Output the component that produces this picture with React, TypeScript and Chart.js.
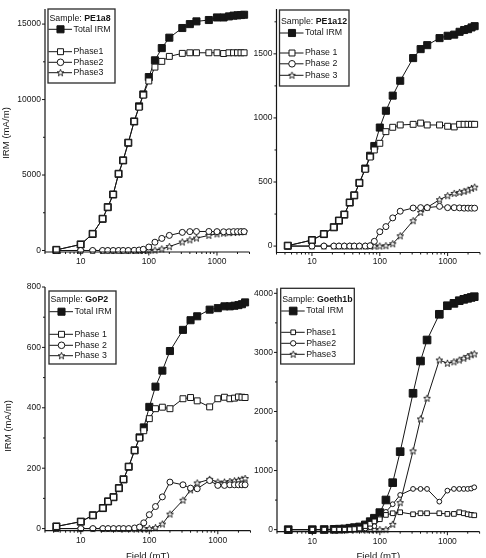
import React, { useEffect, useRef } from 'react';
import { Chart, registerables } from 'chart.js';

Chart.register(...registerables);

// ---------------- data ----------------
const FIELD_MT = [4.4, 10, 15, 21, 25, 30, 36, 42, 50, 61, 72, 83, 100, 123, 155, 200, 310, 400, 500, 760, 1000, 1250, 1500, 1750, 2000, 2250, 2500];
const X_TICKS = [10, 100, 1000];

// Sample PE1a8
const PE1A8_TOTAL = [40, 400, 1100, 2100, 2870, 3710, 5080, 5970, 7140, 8550, 9550, 10340, 11490, 12600, 13410, 14100, 14740, 15000, 15180, 15270, 15440, 15440, 15510, 15560, 15580, 15600, 15620];
const PE1A8_PHASE1 = [40, 400, 1100, 2100, 2870, 3710, 5080, 5970, 7140, 8550, 9500, 10300, 11230, 12150, 12530, 12860, 13060, 13100, 13100, 13100, 13100, 13050, 13100, 13100, 13100, 13100, 13100];
const PE1A8_PHASE2 = [0, 0, 0, 0, 0, 0, 0, 0, 0, 10, 30, 80, 230, 550, 800, 1000, 1200, 1250, 1260, 1260, 1250, 1240, 1240, 1250, 1250, 1250, 1250];
const PE1A8_PHASE3 = [0, 0, 0, 0, 0, 0, 0, 0, 0, 0, 0, 0, 0, 20, 100, 260, 560, 700, 820, 1000, 1100, 1150, 1180, 1200, 1220, 1240, 1250];
const PE1A8_Y_TICKS = [0, 5000, 10000, 15000];

// Sample PE1a12
const PE1A12_TOTAL = [3, 47, 94, 147, 199, 246, 340, 396, 493, 605, 705, 781, 925, 1056, 1174, 1290, 1467, 1537, 1568, 1623, 1641, 1650, 1672, 1686, 1693, 1706, 1716];
const PE1A12_PHASE1 = [3, 47, 94, 147, 199, 246, 340, 396, 493, 600, 695, 750, 802, 893, 927, 945, 950, 960, 945, 945, 935, 930, 950, 950, 950, 950, 950];
const PE1A12_PHASE2 = [0, 0, 0, 0, 0, 0, 0, 0, 0, 0, 3, 37, 112, 152, 220, 272, 297, 300, 300, 310, 300, 300, 298, 296, 296, 296, 296];
const PE1A12_PHASE3 = [0, 0, 0, 0, 0, 0, 0, 0, 0, 0, 0, 0, 0, 3, 18, 80, 198, 263, 302, 362, 393, 411, 419, 427, 437, 450, 460];
const PE1A12_Y_TICKS = [0, 500, 1000, 1500];

// Sample GoP2
const GOP2_TOTAL = [7, 23, 44, 68, 90, 104, 134, 163, 205, 259, 302, 335, 403, 470, 523, 588, 658, 690, 703, 725, 730, 736, 736, 738, 740, 743, 749];
const GOP2_PHASE1 = [7, 23, 44, 68, 90, 104, 134, 163, 205, 259, 300, 324, 364, 397, 402, 397, 430, 434, 423, 403, 430, 435, 430, 432, 436, 435, 434];
const GOP2_PHASE2 = [0, 0, 0, 0, 0, 0, 0, 0, 0, 2, 5, 19, 46, 73, 105, 154, 145, 134, 132, 159, 143, 143, 145, 145, 145, 145, 145];
const GOP2_PHASE3 = [0, 0, 0, 0, 0, 0, 0, 0, 0, 0, 0, 0, 0, 3, 15, 48, 94, 128, 151, 163, 154, 154, 156, 158, 160, 163, 166];
const GOP2_Y_TICKS = [0, 200, 400, 600, 800];

// Sample Goeth1b
const GOETH1B_TOTAL = [0, 0, 2, 5, 8, 12, 24, 34, 45, 80, 135, 193, 288, 502, 795, 1320, 2308, 2854, 3210, 3645, 3790, 3830, 3875, 3898, 3915, 3930, 3943];
const GOETH1B_PHASE1 = [0, 0, 0, 0, 0, 0, 5, 10, 20, 60, 100, 140, 176, 249, 277, 294, 260, 277, 277, 277, 266, 266, 294, 277, 260, 250, 243];
const GOETH1B_PHASE2 = [0, 0, 0, 0, 0, 0, 0, 0, 5, 20, 40, 60, 193, 300, 430, 587, 689, 689, 689, 474, 660, 689, 689, 689, 689, 695, 717];
const GOETH1B_PHASE3 = [0, 0, 0, 0, 0, 0, 0, 0, 0, 0, 0, 0, 0, 0, 90, 457, 1332, 1873, 2223, 2871, 2816, 2840, 2870, 2900, 2930, 2960, 2975];
const GOETH1B_Y_TICKS = [0, 1000, 2000, 3000, 4000];

// ---------------- style ----------------
const FONT = '"Liberation Sans", Arial, Helvetica, sans-serif';
const INK = '#151515';
const W = 486;
const H = 558;
const Y_AXIS_W = 40;
const X_AXIS_H = 20;

function makeStar(): HTMLCanvasElement {
  const c = document.createElement('canvas');
  c.width = 9;
  c.height = 9;
  const g = c.getContext('2d') as CanvasRenderingContext2D;
  starPath(g, 4.5, 4.7, 3.6, 1.5);
  return c;
}

function starPath(g: CanvasRenderingContext2D, cx: number, cy: number, ro: number, ri: number) {
  g.save();
  g.beginPath();
  for (let i = 0; i < 10; i++) {
    const r = i % 2 ? ri : ro;
    const a = -Math.PI / 2 + (i * Math.PI) / 5;
    const px = cx + r * Math.cos(a);
    const py = cy + r * Math.sin(a);
    if (i) g.lineTo(px, py);
    else g.moveTo(px, py);
  }
  g.closePath();
  g.fillStyle = '#fff';
  g.fill();
  g.strokeStyle = INK;
  g.lineWidth = 0.9;
  g.stroke();
  g.restore();
}

type Panel = {
  sample: string;
  series: number[][];
  phaseLabels: string[];
  yTicks: number[];
  yMin: number;
  yMax: number;
  area: { left: number; right: number; top: number; bottom: number };
  legend: { dx: number; dy: number; w: number; h: number; rows: number[] };
  sizes: number[];
  yTitle?: { x: number; y: number };
  xTitle?: boolean;
};

const PANELS: Panel[] = [
  {
    sample: 'PE1a8',
    series: [PE1A8_TOTAL, PE1A8_PHASE1, PE1A8_PHASE2, PE1A8_PHASE3],
    phaseLabels: ['Phase1', 'Phase2', 'Phase3'],
    yTicks: PE1A8_Y_TICKS,
    yMin: -100,
    yMax: 16000,
    area: { left: 45, right: 249.5, top: 9, bottom: 252 },
    legend: { dx: 3, dy: 0, w: 67, h: 74, rows: [9.7, 20.3, 42.7, 53.3, 63.7] },
    sizes: [5, 4.2, 3, 3],
    yTitle: { x: 9, y: 133 },
  },
  {
    sample: 'PE1a12',
    series: [PE1A12_TOTAL, PE1A12_PHASE1, PE1A12_PHASE2, PE1A12_PHASE3],
    phaseLabels: ['Phase 1', 'Phase 2', 'Phase 3'],
    yTicks: PE1A12_Y_TICKS,
    yMin: -50,
    yMax: 1850,
    area: { left: 276.5, right: 482.5, top: 9, bottom: 252.5 },
    legend: { dx: 3, dy: 1, w: 69.5, h: 76, rows: [11.7, 23, 43, 53.8, 65.3] },
    sizes: [5, 4.2, 3, 3],
  },
  {
    sample: 'GoP2',
    series: [GOP2_TOTAL, GOP2_PHASE1, GOP2_PHASE2, GOP2_PHASE3],
    phaseLabels: ['Phase 1', 'Phase 2', 'Phase 3'],
    yTicks: GOP2_Y_TICKS,
    yMin: -7,
    yMax: 800,
    area: { left: 45, right: 250.5, top: 287, bottom: 530.7 },
    legend: { dx: 4, dy: 4, w: 67, h: 73, rows: [9, 20.7, 43.3, 54.3, 64.7] },
    sizes: [5, 4.2, 3, 3],
    yTitle: { x: 11, y: 426 },
    xTitle: true,
  },
  {
    sample: 'Goeth1b',
    series: [GOETH1B_TOTAL, GOETH1B_PHASE1, GOETH1B_PHASE2, GOETH1B_PHASE3],
    phaseLabels: ['Phase1', 'Phase2', 'Phase3'],
    yTicks: GOETH1B_Y_TICKS,
    yMin: -35,
    yMax: 4085,
    area: { left: 277, right: 483, top: 288.3, bottom: 531.7 },
    legend: { dx: 3.7, dy: 0, w: 73.6, h: 75.7, rows: [11.7, 22.7, 44, 55, 66] },
    sizes: [5.4, 3.3, 2.4, 3],
    xTitle: true,
  },
];

function drawMarker(ctx: CanvasRenderingContext2D, kind: number, x: number, y: number, r: number, star: HTMLCanvasElement) {
  ctx.save();
  ctx.strokeStyle = INK;
  ctx.lineWidth = 1;
  if (kind === 0 || kind === 1) {
    const s = Math.SQRT1_2 * r;
    ctx.beginPath();
    ctx.rect(x - s, y - s, 2 * s, 2 * s);
    ctx.fillStyle = kind === 0 ? INK : '#fff';
    ctx.fill();
    ctx.stroke();
  } else if (kind === 2) {
    ctx.beginPath();
    ctx.arc(x, y, r, 0, Math.PI * 2);
    ctx.fillStyle = '#fff';
    ctx.fill();
    ctx.stroke();
  } else {
    ctx.drawImage(star, x - star.width / 2, y - star.height / 2);
  }
  ctx.restore();
}

function ChartPanel({ panel }: { panel: Panel }) {
  const ref = useRef<HTMLCanvasElement | null>(null);
  useEffect(() => {
    const canvas = ref.current;
    if (!canvas) return;
    const star = makeStar();
    const labels = ['Total IRM', ...panel.phaseLabels];
    const styles: any[] = ['rect', 'rect', 'circle', star];
    const orders = [4, 1, 2, 3];
    const datasets = panel.series.map((vals, i) => ({
      label: labels[i],
      data: FIELD_MT.map((f, k) => ({ x: f, y: vals[k] })),
      borderColor: INK,
      borderWidth: 1,
      backgroundColor: i === 0 ? INK : '#fff',
      pointStyle: styles[i],
      pointRadius: panel.sizes[i],
      pointBorderWidth: 1,
      pointBorderColor: INK,
      pointBackgroundColor: i === 0 ? INK : '#fff',
      tension: 0,
      order: orders[i],
      clip: false as any,
    }));

    const a = panel.area;
    const yMinor: number[] = [];
    for (let k = 0; k < panel.yTicks.length; k++) {
      const step = panel.yTicks[1] - panel.yTicks[0];
      const v = panel.yTicks[k] + step / 2;
      if (v <= panel.yMax) yMinor.push(v);
    }

    const decor = {
      id: 'decor',
      afterDraw(chart: any) {
        const ctx: CanvasRenderingContext2D = chart.ctx;
        const ca = chart.chartArea;
        const xs = chart.scales.x;
        const ys = chart.scales.y;
        ctx.save();
        // axis lines
        ctx.strokeStyle = INK;
        ctx.lineWidth = 1.2;
        ctx.beginPath();
        ctx.moveTo(ca.left, ca.top);
        ctx.lineTo(ca.left, ca.bottom);
        ctx.lineTo(ca.right, ca.bottom);
        ctx.stroke();
        ctx.lineWidth = 1;
        ctx.beginPath();
        for (let d = 1; d <= 1000; d *= 10) {
          for (let m = 1; m <= 9; m++) {
            const v = d * m;
            if (v < xs.min || v > xs.max) continue;
            const px = xs.getPixelForValue(v);
            const len = m === 1 ? 3.5 : 2;
            ctx.moveTo(px, ca.bottom);
            ctx.lineTo(px, ca.bottom + len);
          }
        }
        panel.yTicks.forEach((v) => {
          const py = ys.getPixelForValue(v);
          ctx.moveTo(ca.left, py);
          ctx.lineTo(ca.left - 3, py);
        });
        yMinor.forEach((v) => {
          const py = ys.getPixelForValue(v);
          ctx.moveTo(ca.left, py);
          ctx.lineTo(ca.left - 2, py);
        });
        ctx.stroke();

        // legend box
        const L = panel.legend;
        const x0 = ca.left + L.dx;
        const y0 = ca.top + L.dy;
        ctx.lineWidth = 1.3;
        ctx.strokeStyle = '#2a2a2a';
        ctx.strokeRect(x0, y0, L.w, L.h);
        ctx.fillStyle = INK;
        ctx.textAlign = 'left';
        ctx.textBaseline = 'middle';
        ctx.font = `8.8px ${FONT}`;
        ctx.fillText('Sample: ', x0 + 1.5, y0 + L.rows[0]);
        const sw = ctx.measureText('Sample: ').width;
        ctx.font = `bold 8.8px ${FONT}`;
        ctx.fillText(panel.sample, x0 + 1.5 + sw, y0 + L.rows[0]);
        ctx.font = `8.8px ${FONT}`;
        labels.forEach((lab, i) => {
          const yy = y0 + L.rows[i + 1];
          ctx.strokeStyle = INK;
          ctx.lineWidth = 1;
          ctx.beginPath();
          ctx.moveTo(x0 + 0.5, yy);
          ctx.lineTo(x0 + 24, yy);
          ctx.stroke();
          drawMarker(ctx, i, x0 + 12.5, yy, i === 0 ? Math.max(panel.sizes[0], 5) : panel.sizes[i] + (i === 1 ? 0 : 0.3), star);
          ctx.fillStyle = INK;
          ctx.fillText(lab, x0 + 25.5, yy);
        });

        // axis titles
        ctx.fillStyle = INK;
        ctx.font = `9.6px ${FONT}`;
        if (panel.xTitle) {
          ctx.textAlign = 'center';
          ctx.textBaseline = 'alphabetic';
          ctx.fillText('Field (mT)', (ca.left + ca.right) / 2, 558.5);
        }
        if (panel.yTitle) {
          ctx.save();
          ctx.translate(panel.yTitle.x, panel.yTitle.y);
          ctx.rotate(-Math.PI / 2);
          ctx.textAlign = 'center';
          ctx.textBaseline = 'alphabetic';
          ctx.fillText('IRM (mA/m)', 0, 0);
          ctx.restore();
        }
        ctx.restore();
      },
    };

    const chart = new Chart(canvas, {
      type: 'line',
      data: { datasets: datasets as any },
      options: {
        responsive: false,
        animation: false,
        devicePixelRatio: 1,
        layout: {
          padding: {
            left: a.left - Y_AXIS_W,
            right: W - a.right,
            top: a.top,
            bottom: H - a.bottom - X_AXIS_H,
          },
        },
        plugins: { legend: { display: false }, tooltip: { enabled: false } },
        scales: {
          x: {
            type: 'logarithmic',
            min: 3,
            max: 3000,
            grid: { display: false, drawTicks: true, tickLength: 3 },
            border: { display: false },
            ticks: {
              autoSkip: false,
              maxRotation: 0,
              minRotation: 0,
              padding: 1.5,
              color: INK,
              font: { family: FONT, size: 8.5 },
              callback: (v: any) => String(v),
            },
            afterBuildTicks: (s: any) => {
              s.ticks = X_TICKS.map((v) => ({ value: v }));
            },
            afterFit: (s: any) => {
              s.height = X_AXIS_H;
            },
          },
          y: {
            type: 'linear',
            min: panel.yMin,
            max: panel.yMax,
            grid: { display: false, drawTicks: true, tickLength: 3 },
            border: { display: false },
            ticks: {
              padding: 1,
              color: INK,
              font: { family: FONT, size: 8.5 },
              callback: (v: any) => String(v),
            },
            afterBuildTicks: (s: any) => {
              s.ticks = panel.yTicks.map((v) => ({ value: v }));
            },
            afterFit: (s: any) => {
              s.width = Y_AXIS_W;
            },
          },
        },
      } as any,
      plugins: [decor],
    });
    return () => chart.destroy();
  }, [panel]);
  return (
    <canvas
      ref={ref}
      width={W}
      height={H}
      style={{ position: 'absolute', left: 0, top: 0, width: W, height: H }}
    />
  );
}

export default function App() {
  return (
    <div style={{ position: 'fixed', left: 0, top: 0, width: W, height: H, background: '#fff', overflow: 'hidden' }}>
      {PANELS.map((p) => (
        <ChartPanel key={p.sample} panel={p} />
      ))}
    </div>
  );
}
